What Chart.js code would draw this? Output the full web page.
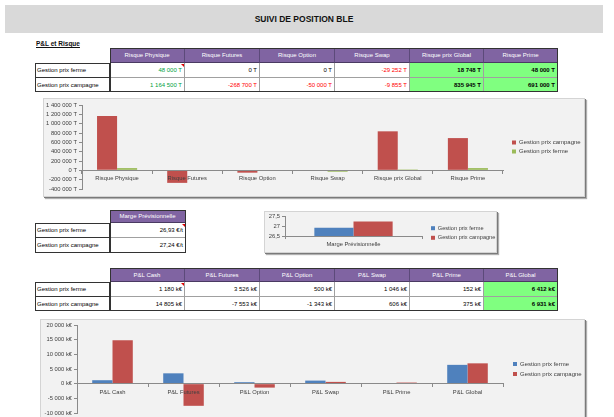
<!DOCTYPE html>
<html><head><meta charset="utf-8">
<script src="https://cdn.jsdelivr.net/npm/chart.js@4.4.1/dist/chart.umd.min.js"></script>
<style>
html,body{margin:0;padding:0;width:614px;height:417px;overflow:hidden;background:#fff;font-family:'Liberation Sans',Arial,sans-serif;}
#root{position:relative;width:614px;height:417px;overflow:hidden;}
#root div,#root canvas{position:absolute;box-sizing:border-box;}
.title{background:#d9d9d9;font-weight:bold;font-size:8.5px;display:flex;align-items:center;justify-content:center;color:#111;}
.sub{font-size:6.5px;font-weight:bold;text-decoration:underline;color:#111;white-space:nowrap;}
.cell{font-size:6px;white-space:nowrap;overflow:hidden;display:flex;align-items:center;padding:0 2px;}
.hdr{background:#8064a2;color:#fff;justify-content:center;border-right:1px solid #5c4a7a;border-bottom:1px solid #4a3a62;}
.lab{justify-content:flex-start;color:#000;border-bottom:1px solid #333;background:#fff;}
.val{justify-content:flex-end;border-right:1px solid #a0a0a0;border-bottom:1px solid #a0a0a0;}
.box{border:1.5px solid #333;pointer-events:none;}
.tri{width:0;height:0;border-left:3px solid transparent;border-top:3px solid #e00000;}
.chartbox{background:#f2f2f2;border:1px solid #d4d4d4;box-shadow:1px 1px 0 #7a7a7a,2px 2px 1px #b0b0b0;}
</style></head>
<body><div id="root"></div>
<script>
// ---------- DATA ----------
const rowLabels = ['Gestion prix ferme', 'Gestion prix campagne'];

const risqueCategories = ['Risque Physique', 'Risque Futures', 'Risque Option', 'Risque Swap', 'Risque prix Global', 'Risque Prime'];
const risqueFerme = [48000, 0, 0, -29252, 18748, 48000];
const risqueCampagne = [1164500, -268700, -50000, -9855, 835945, 691000];

const margeCategories = ['Marge Prévisionnelle'];
const margeFerme = [26.93];
const margeCampagne = [27.24];

const plCategories = ['P&L Cash', 'P&L Futures', 'P&L Option', 'P&L Swap', 'P&L Prime', 'P&L Global'];
const plFerme = [1180, 3526, 500, 1046, 152, 6412];
const plCampagne = [14805, -7553, -1343, 606, 375, 6931];

// ---------- HELPERS ----------
const root = document.getElementById('root');
function el(cls, x, y, w, h, text, css) {
  const d = document.createElement('div');
  d.className = cls;
  Object.assign(d.style, {left: x + 'px', top: y + 'px'});
  if (w != null) d.style.width = w + 'px';
  if (h != null) d.style.height = h + 'px';
  if (text != null) d.textContent = text;
  if (css) Object.assign(d.style, css);
  root.appendChild(d);
  return d;
}
function sp(v) {
  const s = Math.abs(Math.round(v)).toString().replace(/\B(?=(\d{3})+(?!\d))/g, ' ');
  return (v < 0 ? '-' : '') + s;
}
const GREEN_BG = '#80ff80';
const LAB_X = 35;
const COLS = [110, 185, 260, 335, 410, 484, 558];

function drawTable(top, rowH, colX, headers, cells) {
  const r1 = top + rowH[0], r2 = r1 + rowH[1], bottom = r2 + rowH[2];
  for (let c = 0; c < headers.length; c++) el('cell hdr', colX[c], top, colX[c + 1] - colX[c], rowH[0], headers[c]);
  const ys = [r1, r2];
  for (let r = 0; r < 2; r++) {
    el('cell lab', LAB_X, ys[r], colX[0] - LAB_X, rowH[r + 1], rowLabels[r]);
    for (let c = 0; c < headers.length; c++) {
      const s = cells[r][c];
      el('cell val', colX[c], ys[r], colX[c + 1] - colX[c], rowH[r + 1], s.text,
        {color: s.color || '#000', fontWeight: s.bold ? 'bold' : 'normal', background: s.bg || '#fff'});
    }
  }
  el('box', LAB_X, r1, colX[0] - LAB_X, bottom - r1);
  el('box', colX[0], top, colX[headers.length] - colX[0], bottom - top);
  el('tri', colX[1] - 4, r1 + 1, null, null);
}

// ---------- PAGE ----------
el('title', 5, 5, 598, 28, 'SUIVI DE POSITION BLE');
el('sub', 36, 40, null, null, 'P&L et Risque');

drawTable(48, [15, 15, 14], COLS, risqueCategories,
  [risqueFerme, risqueCampagne].map(row => row.map((v, c) => {
    if (c === 0) return {text: sp(v) + ' T', color: '#00a040'};
    if (c >= 4) return {text: sp(v) + ' T', bold: true, bg: GREEN_BG};
    return {text: sp(v) + ' T', color: v < 0 ? '#ff0000' : '#000'};
  })));

drawTable(210, [13, 15, 15], [110, 186], margeCategories,
  [margeFerme, margeCampagne].map(row => row.map(v => ({text: v.toFixed(2).replace('.', ',') + ' €/t'}))));

drawTable(268, [14, 15, 14], COLS, plCategories,
  [plFerme, plCampagne].map(row => row.map((v, c) => {
    if (c === 5) return {text: sp(v) + ' k€', bold: true, bg: GREEN_BG};
    return {text: sp(v) + ' k€'};
  })));

// ---------- CHARTS ----------
const AX = '#8a8a8a', TXT = '#404040';
const BLUE = '#4f81bd', RED = '#c0504d', GREEN = '#9bbb59';
Chart.defaults.font.family = "'Liberation Sans', Arial, sans-serif";

const legendFix = {
  id: 'legendFix',
  beforeLayout(chart, args, opts) {
    const lg = chart.legend;
    if (lg && !lg._fixed) {
      const f = lg.fit;
      lg.fit = function () { f.call(this); if (opts.width) this.width = opts.width; };
      lg._fixed = true;
    }
  },
  afterLayout(chart, args, opts) {
    const lg = chart.legend;
    if (lg && opts.dx) { lg.left += opts.dx; lg.right += opts.dx; }
  }
};

function makeChart(box, labels, datasets, cfg) {
  el('chartbox', box.x, box.y, box.w, box.h);
  const cv = document.createElement('canvas');
  cv.width = box.w; cv.height = box.h;
  Object.assign(cv.style, {left: box.x + 'px', top: box.y + 'px', width: box.w + 'px', height: box.h + 'px'});
  root.appendChild(cv);
  return new Chart(cv, {
    type: 'bar',
    data: {labels, datasets: datasets.map(d => ({label: d.label, data: d.data, backgroundColor: d.color, borderWidth: 0}))},
    options: {
      animation: false, responsive: false, maintainAspectRatio: false, devicePixelRatio: 1,
      layout: {padding: cfg.padding},
      datasets: {bar: {categoryPercentage: 2 / 3.5, barPercentage: 1}},
      plugins: {
        legend: {position: 'right', align: 'center',
          labels: {boxWidth: 4, boxHeight: 4, padding: cfg.legPad, color: TXT, font: {size: cfg.legFont}}},
        tooltip: {enabled: false},
        legendFix: {width: cfg.legW, dx: cfg.legDx}
      },
      scales: {
        x: {position: cfg.xAtZero ? {y: 0} : 'bottom',
          grid: {drawOnChartArea: false, offset: true, tickLength: 3, color: AX, z: 1},
          border: {color: AX, z: 1},
          ticks: {color: TXT, font: {size: 5.8}, padding: 2, maxRotation: 0, autoSkip: false, z: 1}},
        y: {min: cfg.min, max: cfg.max,
          grid: {drawOnChartArea: false, tickLength: 3, color: AX},
          border: {color: AX},
          ticks: {stepSize: cfg.step, color: TXT, font: {size: 5.8}, padding: 2, autoSkip: false, callback: cfg.fmt},
          afterFit: s => { s.width = cfg.yW; }}
      }
    },
    plugins: [legendFix]
  });
}

makeChart({x: 43, y: 98, w: 542, h: 99}, risqueCategories,
  [{label: 'Gestion prix campagne', data: risqueCampagne, color: RED},
   {label: 'Gestion prix ferme', data: risqueFerme, color: GREEN}],
  {padding: {top: 7, bottom: 8, left: 0, right: 0}, yW: 39, legW: 82, legDx: 6, legPad: 3, legFont: 6,
   xAtZero: true, min: -400000, max: 1400000, step: 200000, fmt: v => sp(v) + ' T'});

makeChart({x: 264, y: 211, w: 233, h: 42}, margeCategories,
  [{label: 'Gestion prix ferme', data: margeFerme, color: BLUE},
   {label: 'Gestion prix campagne', data: margeCampagne, color: RED}],
  {padding: {top: 5, bottom: 3, left: 0, right: 0}, yW: 21, legW: 75, legDx: 5, legPad: 4, legFont: 5.6,
   xAtZero: false, min: 26.5, max: 27.5, step: 0.5, fmt: v => String(+v.toFixed(1)).replace('.', ',')});

makeChart({x: 40, y: 319, w: 545, h: 104}, plCategories,
  [{label: 'Gestion prix ferme', data: plFerme, color: BLUE},
   {label: 'Gestion prix campagne', data: plCampagne, color: RED}],
  {padding: {top: 6, bottom: 10, left: 0, right: 0}, yW: 37, legW: 82, legDx: 6, legPad: 4, legFont: 6,
   xAtZero: true, min: -10000, max: 20000, step: 5000, fmt: v => sp(v) + ' k€'});
</script>
</body></html>
